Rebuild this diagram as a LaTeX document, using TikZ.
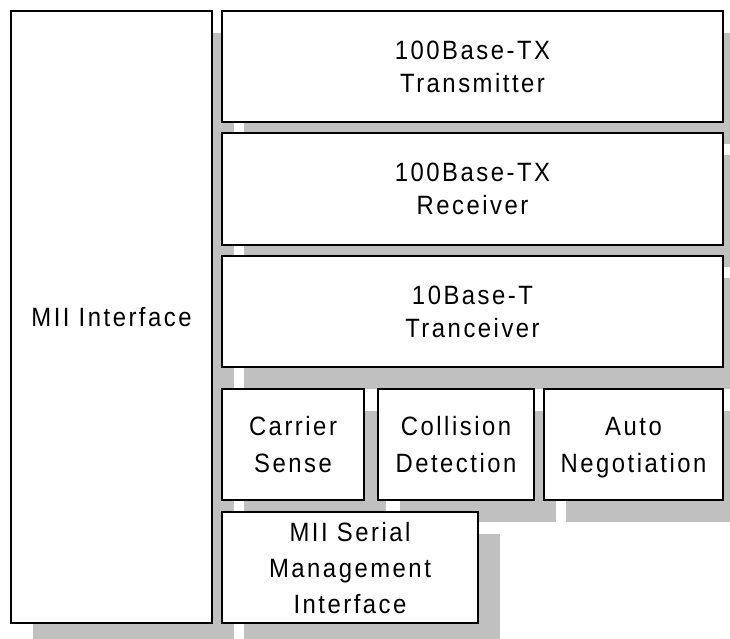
\documentclass[tikz,border=0pt]{standalone}
\usepackage{fontspec}
\setmainfont{Liberation Sans}[LetterSpace=9.5, FakeStretch=0.9]
\usetikzlibrary{shadows}
\definecolor{shadowgray}{HTML}{C0C0C0}
\tikzset{
  blk/.style={draw=black, line width=1.6pt, fill=white, inner sep=0pt,
    align=center, text depth=0pt, font=\fontsize{26.5}{33}\selectfont,
    drop shadow={shadow xshift=22pt, shadow yshift=-22pt, fill=shadowgray, opacity=1}},
  tall/.style={font=\fontsize{26.5}{37}\selectfont}
}
\begin{document}
\begin{tikzpicture}[x=1pt, y=-1pt]
\clip (0,0) rectangle (730,639);
\useasboundingbox (0,0) rectangle (730,639);
\node[blk, minimum width=201pt, minimum height=612pt] (mii) at (111.5,317) {MII Interface};
\node[blk, minimum width=501pt, minimum height=111pt] (tx) at (472.5,66.5) {100Base-TX\\Transmitter};
\node[blk, minimum width=501pt, minimum height=112pt] (rx) at (472.5,189) {100Base-TX\\Receiver};
\node[blk, minimum width=501pt, minimum height=111pt] (ten) at (472.5,311.5) {10Base-T\\Tranceiver};
\node[blk, tall, minimum width=142pt, minimum height=111pt] (cs) at (293,444.5) {Carrier\\Sense};
\node[blk, tall, minimum width=156pt, minimum height=111pt] (cd) at (456,444.5) {Collision\\Detection};
\node[blk, tall, minimum width=179pt, minimum height=111pt] (an) at (633.5,444.5) {Auto\\Negotiation};
\node[blk, font=\fontsize{26.5}{36}\selectfont, minimum width=256pt, minimum height=111pt] (smi) at (350,567.5) {MII Serial\\Management\\Interface};
\end{tikzpicture}
\end{document}
